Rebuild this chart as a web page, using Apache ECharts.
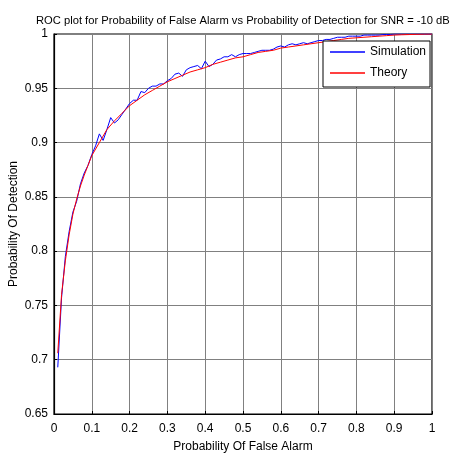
<!DOCTYPE html>
<html>
<head>
<meta charset="utf-8">
<script src="https://cdn.jsdelivr.net/npm/echarts@6/dist/echarts.min.js"></script>
<style>
html,body{margin:0;padding:0;background:#fff;}
#chart{width:450px;height:454px;}
</style>
</head>
<body>
<div id="chart"></div>
<script>
var titleText = 'ROC plot for Probability of False Alarm vs Probability of Detection for SNR = -10 dB';
var xAxisName = 'Probability Of False Alarm';
var yAxisName = 'Probability Of Detection';
var seriesNames = ['Simulation', 'Theory'];

var simPfa = [0.01,0.02,0.03,0.04,0.05,0.06,0.07,0.08,0.09,0.10,
  0.11,0.12,0.13,0.14,0.15,0.16,0.17,0.18,0.19,0.20,
  0.21,0.22,0.23,0.24,0.25,0.26,0.27,0.28,0.29,0.30,
  0.31,0.32,0.33,0.34,0.35,0.36,0.37,0.38,0.39,0.40,
  0.41,0.42,0.43,0.44,0.45,0.46,0.47,0.48,0.49,0.50,
  0.51,0.52,0.53,0.54,0.55,0.56,0.57,0.58,0.59,0.60,
  0.61,0.62,0.63,0.64,0.65,0.66,0.67,0.68,0.69,0.70,
  0.71,0.72,0.73,0.74,0.75,0.76,0.77,0.78,0.79,0.80,
  0.81,0.82,0.83,0.84,0.85,0.86,0.87,0.88,0.89,0.90,
  0.91,0.92,0.93,0.94,0.95,0.96,0.97,0.98,0.99,1.00];
var simPd = [0.693,0.757,0.795,0.818,0.836,0.846,0.862,0.872,0.879,0.889,
  0.897,0.908,0.902,0.912,0.923,0.918,0.921,0.926,0.931,0.936,
  0.939,0.939,0.947,0.946,0.950,0.952,0.952,0.954,0.954,0.957,
  0.959,0.963,0.964,0.961,0.967,0.969,0.970,0.971,0.968,0.975,
  0.970,0.972,0.976,0.977,0.979,0.979,0.981,0.979,0.981,0.982,
  0.982,0.982,0.983,0.984,0.985,0.985,0.985,0.986,0.988,0.989,
  0.988,0.990,0.991,0.990,0.991,0.992,0.991,0.992,0.993,0.994,
  0.994,0.995,0.995,0.996,0.997,0.997,0.997,0.998,0.998,0.998,
  0.998,0.999,0.999,0.999,0.999,0.999,0.9995,0.9995,0.9995,1.0,
  1.0,1.0,1.0,1.0,1.0,1.0,1.0,1.0,1.0,1.0];

var theoPfa = [0.01,0.02,0.03,0.04,0.05,0.06,0.07,0.08,0.09,0.10,
  0.12,0.14,0.16,0.18,0.20,0.22,0.24,0.26,0.28,0.30,
  0.32,0.34,0.36,0.38,0.40,0.42,0.44,0.46,0.48,0.50,
  0.52,0.54,0.56,0.58,0.60,0.62,0.64,0.66,0.68,0.70,
  0.72,0.74,0.76,0.78,0.80,0.82,0.84,0.86,0.88,0.90,
  0.92,0.94,0.96,0.98,1.00];
var theoPd = [0.706,0.760,0.791,0.815,0.834,0.848,0.860,0.870,0.879,0.888,
  0.900,0.912,0.920,0.927,0.934,0.939,0.944,0.948,0.952,0.956,
  0.959,0.962,0.965,0.967,0.969,0.972,0.974,0.976,0.978,0.979,
  0.981,0.983,0.984,0.985,0.987,0.988,0.989,0.990,0.991,0.992,
  0.993,0.994,0.995,0.996,0.9965,0.997,0.9975,0.998,0.9985,0.999,
  0.9993,0.9995,0.9997,0.9999,1.0];

function pairs(xs, ys){ return xs.map(function(x,i){ return [x, ys[i]]; }); }

var font = '"Liberation Sans", Arial, sans-serif';
var chart = echarts.init(document.getElementById('chart'), null, {renderer:'canvas'});
chart.setOption({
  animation:false,
  backgroundColor:'#ffffff',
  title:{
    text:titleText, left:31, top:10,
    textStyle:{fontFamily:font, fontSize:11.2, fontWeight:'normal', color:'#000'}
  },
  grid:{left:54, right:18, top:34, bottom:40, outerBoundsMode:'none', containLabel:false,
    show:true, borderColor:'#000', borderWidth:1.2, backgroundColor:'#fff'},
  legend:{
    data:seriesNames, orient:'vertical', left:323, top:41,
    backgroundColor:'#fff', borderColor:'#000', borderWidth:1,
    padding:[5,4,8,7], itemGap:9, itemWidth:35, itemHeight:1.5, icon:'rect',
    textStyle:{fontFamily:font, fontSize:12, color:'#000'}
  },
  xAxis:{
    type:'value', min:0, max:1, interval:0.1,
    name:xAxisName, nameLocation:'middle', nameGap:27, nameMoveOverlap:false,
    nameTextStyle:{fontFamily:font, fontSize:12, color:'#000'},
    axisLine:{show:true, lineStyle:{color:'#000', width:1.2}},
    axisTick:{show:true, inside:true, length:3, lineStyle:{color:'#000'}},
    axisLabel:{fontFamily:font, fontSize:12, color:'#000', margin:9,
      formatter:function(v){ return String(+v.toFixed(2)); }},
    splitLine:{show:true, lineStyle:{color:'#808080', width:1}}
  },
  yAxis:{
    type:'value', min:0.65, max:1, interval:0.05,
    name:yAxisName, nameLocation:'middle', nameGap:34, nameMoveOverlap:false,
    nameTextStyle:{fontFamily:font, fontSize:12, color:'#000'},
    axisLine:{show:true, lineStyle:{color:'#000', width:1.2}},
    axisTick:{show:true, inside:true, length:3, lineStyle:{color:'#000'}},
    axisLabel:{fontFamily:font, fontSize:12, color:'#000', margin:6,
      formatter:function(v){ return String(+v.toFixed(2)); }},
    splitLine:{show:true, lineStyle:{color:'#808080', width:1}}
  },
  series:[
    {name:seriesNames[0], type:'line', data:pairs(simPfa, simPd), symbol:'none',
     lineStyle:{color:'#0000ff', width:1}, itemStyle:{color:'#0000ff'}},
    {name:seriesNames[1], type:'line', data:pairs(theoPfa, theoPd), symbol:'none',
     lineStyle:{color:'#ff0000', width:1}, itemStyle:{color:'#ff0000'}}
  ]
});
</script>
</body>
</html>
